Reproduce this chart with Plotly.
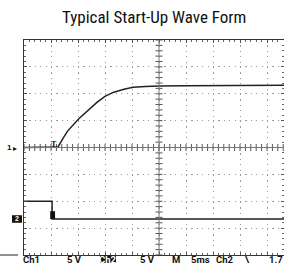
import plotly.graph_objects as go
import numpy as np

# Data (oscilloscope divisions: x 0..10, y 0..8)
ch1_x = [0.0, 1.0, 1.26, 1.45, 1.62, 2.04, 2.4, 2.7, 3.0, 3.3, 3.7, 4.04, 4.5, 5.0, 6.0, 7.0, 8.0, 9.0, 9.63]
ch1_y = [4.0, 4.0, 4.02, 4.35, 4.62, 5.08, 5.42, 5.68, 5.9, 6.05, 6.17, 6.24, 6.27, 6.29, 6.3, 6.31, 6.31, 6.32, 6.32]
ch2_x = [0.0, 1.04, 1.04, 9.63]
ch2_y = [2.0, 2.0, 1.34, 1.34]

title_text = "Typical Start-Up Wave Form"
readout_labels = ["Ch1", "5 V", "Ch2", "5 V", "M", "5ms", "Ch2", "\\", "1.7"]
readout_x = [31, 74, 108, 147, 176, 200, 225, 247, 276]

W, H = 284, 264
L, T, B = 24, 40, 9
PW, PH = W - L, H - T - B
XMAX = PW / 27.0


def px_x(p):
    return (p - L) / PW


def px_y(p):
    return (H - B - p) / PH


fig = go.Figure()

# center graticule ticks
ty = np.arange(0, 8.01, 0.2)
tx = np.arange(0, XMAX, 0.2)
fig.add_trace(go.Scatter(x=[5] * len(ty), y=ty, mode="markers",
                         marker=dict(symbol="line-ew", size=5, line=dict(color="#555", width=1)),
                         hoverinfo="skip", showlegend=False))
fig.add_trace(go.Scatter(x=tx, y=[4] * len(tx), mode="markers",
                         marker=dict(symbol="line-ns", size=5, line=dict(color="#555", width=1)),
                         hoverinfo="skip", showlegend=False))

fig.add_trace(go.Scatter(x=ch1_x, y=ch1_y, mode="lines",
                         line=dict(color="#222", width=1.5), showlegend=False, hoverinfo="skip"))
fig.add_trace(go.Scatter(x=ch2_x, y=ch2_y, mode="lines",
                         line=dict(color="#222", width=1.5), showlegend=False, hoverinfo="skip"))

grid = dict(showgrid=True, gridcolor="#9a9a9a", gridwidth=1, griddash="1.2px,4.2px",
            zeroline=False, showticklabels=False, showline=True, linecolor="#333",
            linewidth=1, mirror="ticks", ticks="inside", ticklen=3, tickcolor="#555",
            minor=dict(dtick=0.2, ticks="inside", ticklen=2, tickcolor="#666"))

fig.update_xaxes(range=[0, XMAX], dtick=1, tick0=0, **grid)
fig.update_yaxes(range=[0, 8], dtick=1, tick0=0, **grid)

shapes = [
    dict(type="line", xref="x", yref="y", x0=5, x1=5, y0=0, y1=8, line=dict(color="#777", width=1)),
    dict(type="line", xref="x", yref="y", x0=0, x1=XMAX, y0=4, y1=4, line=dict(color="#777", width=1)),
    # ch2 step marker box
    dict(type="rect", xref="x", yref="y", x0=0.97, x1=1.15, y0=1.34, y1=1.63,
         fillcolor="#111", line=dict(width=0)),
    # "2" ref marker box
    dict(type="rect", xref="paper", yref="y", x0=px_x(12), x1=px_x(22), y0=1.2, y1=1.48,
         fillcolor="#111", line=dict(width=0)),
    # inverted Ch2 box in readout
    dict(type="rect", xref="paper", yref="paper", x0=px_x(100), x1=px_x(116),
         y0=px_y(263), y1=px_y(255.5), fillcolor="#111", line=dict(width=0)),
    # short line left
    dict(type="line", xref="paper", yref="paper", x0=px_x(0), x1=px_x(18), y0=px_y(255), y1=px_y(255),
         line=dict(color="#222", width=1)),
]

ann = [dict(text=title_text, x=0.5, xref="paper", xanchor="center", y=px_y(17), yref="paper",
            yanchor="middle", showarrow=False,
            font=dict(family="Liberation Sans Narrow, Roboto Condensed, Arial Narrow, sans-serif",
                      size=17, color="#111"))]

for lbl, px in zip(readout_labels, readout_x):
    col = "#fff" if (lbl == "Ch2" and px == 108) else "#111"
    ann.append(dict(text="<b>" + lbl + "</b>", x=px_x(px), xref="paper", xanchor="center",
                    y=px_y(259.5), yref="paper", yanchor="middle", showarrow=False,
                    font=dict(family="Liberation Sans Narrow, Roboto, sans-serif", size=9.5, color=col)))

ann.append(dict(text="<b>1</b>", x=px_x(9), xref="paper", xanchor="center", y=4, yref="y",
                yanchor="middle", showarrow=False, font=dict(size=8, color="#111",
                family="Liberation Sans Narrow, sans-serif")))
ann.append(dict(text="▸", x=px_x(15), xref="paper", xanchor="center", y=4, yref="y",
                yanchor="middle", showarrow=False, font=dict(size=8, color="#111")))
ann.append(dict(text="<b>2</b>", x=px_x(17), xref="paper", xanchor="center", y=1.34, yref="y",
                yanchor="middle", showarrow=False, font=dict(size=7, color="#fff",
                family="Liberation Sans Narrow, sans-serif")))
ann.append(dict(text="<b>T</b>", x=1.1, xref="x", xanchor="center", y=4.1, yref="y",
                yanchor="middle", showarrow=False, font=dict(size=8, color="#111",
                family="Liberation Serif, serif")))

fig.update_layout(width=W, height=H, margin=dict(l=L, r=0, t=T, b=B),
                  paper_bgcolor="white", plot_bgcolor="white",
                  shapes=shapes, annotations=ann, showlegend=False)

fig.write_html("out.html", config={"displayModeBar": False},
               post_script="document.body.style.margin='0';document.body.style.overflow='hidden';")
